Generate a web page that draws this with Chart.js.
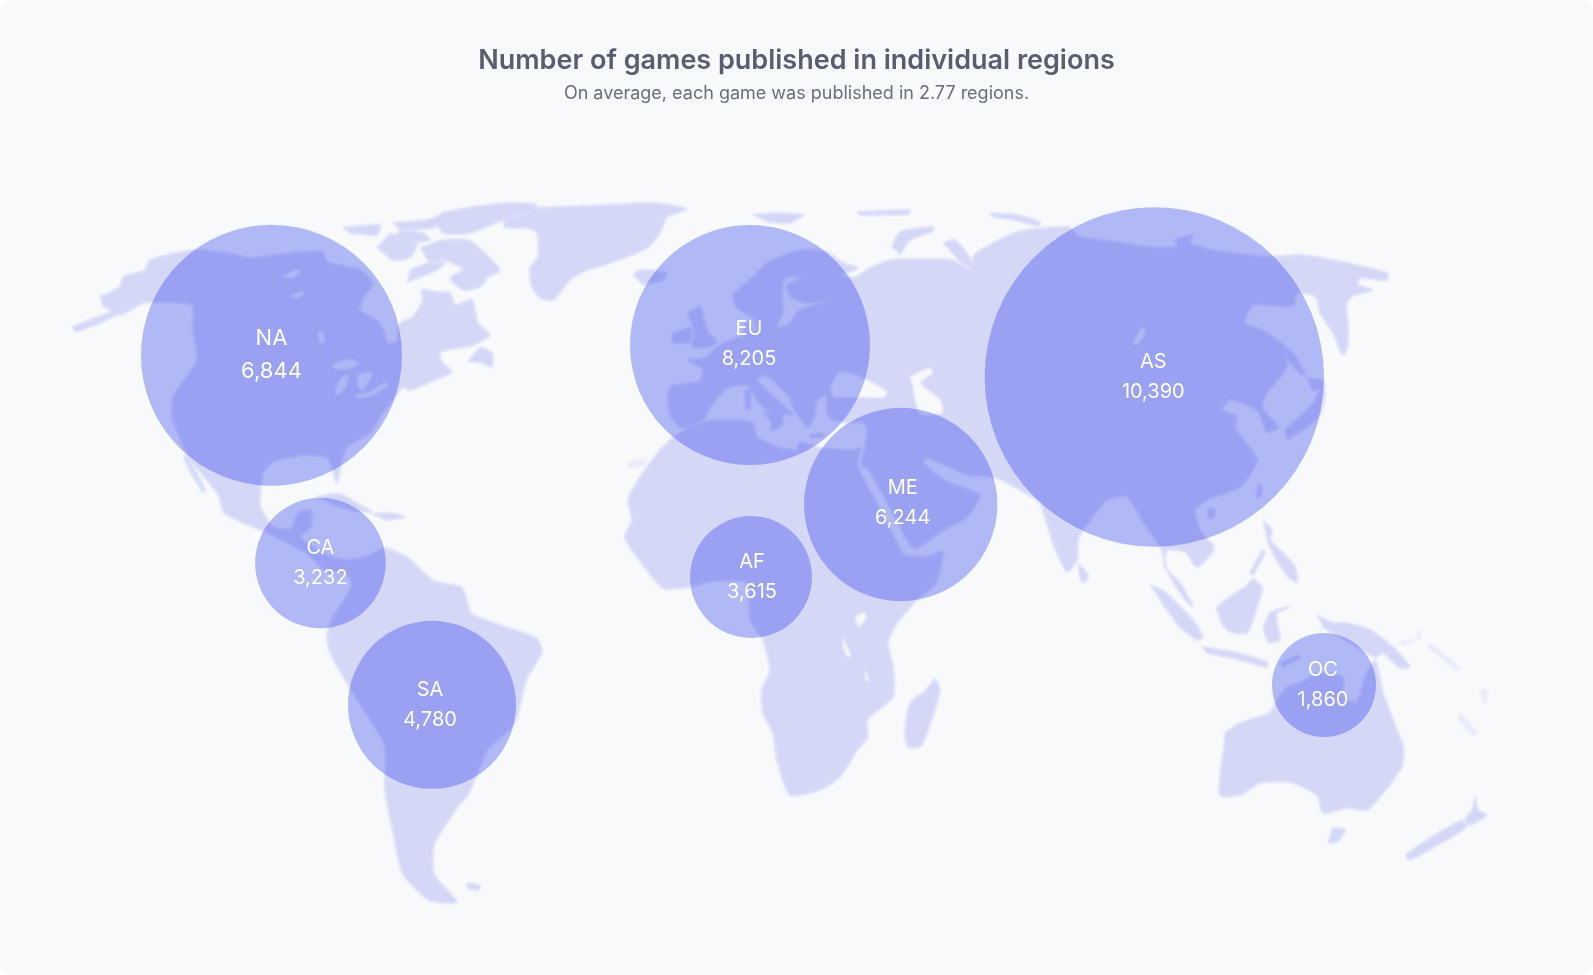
<!DOCTYPE html>
<html>
<head>
<meta charset="utf-8">
<title>Number of games published in individual regions</title>
<script src="https://cdn.jsdelivr.net/npm/chart.js@4"></script>
<style>
  html, body { margin: 0; background: #fff; }
  #mapChart { display: block; background: #f7f9fb; border-radius: 12px; }
</style>
</head>
<body>
<canvas id="mapChart" width="1593" height="975"></canvas>
<script>
// Region values
const regions = ['NA', 'EU', 'AS', 'ME', 'AF', 'CA', 'SA', 'OC'];
const gameCounts = [6844, 8205, 10390, 6244, 3615, 3232, 4780, 1860];
// Where each bubble sits on the map axes, and how big it is
const regionX = [271.5, 750, 1154.3, 900.7, 751, 320.4, 432, 1324];
const regionY = [355.3, 345, 377, 504.5, 577, 563, 704.8, 685];
const regionSize = [130.5, 120, 169.7, 96.7, 61, 65.3, 84, 52];

// Map outlines, traced in map axis units
const northAmerica = [[100,297],[120,287],[123,277],[145,270],[150,260],[193,250],[227,253],[250,258],[293,253],[323,252],[327,262],[360,270],[373,283],[362,300],[360,310],[380,323],[388,343],[397,342],[400,323],[413,317],[423,300],[422,290],[437,292],[450,293],[455,305],[472,300],[478,323],[490,335],[478,343],[470,346],[440,352],[442,362],[452,372],[435,380],[410,390],[403,387],[393,400],[380,417],[370,433],[347,447],[342,460],[337,483],[332,467],[327,457],[303,455],[273,462],[263,473],[260,497],[260,506],[273,527],[291,529],[298,513],[311,510],[311,527],[301,536],[311,546],[332,557],[352,560],[370,555],[385,548],[408,558],[434,581],[462,588],[472,614],[536,638],[542,652],[526,680],[515,723],[487,751],[469,793],[457,808],[434,845],[434,874],[457,902],[429,900],[403,874],[393,831],[385,789],[385,746],[357,699],[332,657],[327,638],[332,619],[352,586],[345,572],[327,572],[306,553],[270,534],[224,513],[219,496],[201,473],[189,458],[173,420],[173,397],[197,360],[193,330],[192,305],[157,302],[143,303],[120,315],[102,305]];
const aleutians = [[72,327],[90,320],[112,312],[118,314],[95,325],[75,332]];
const baja = [[188,457],[205,490],[203,492],[187,465],[184,455]];
const baffin = [[420,248],[443,240],[468,240],[485,253],[500,270],[488,277],[480,287],[463,290],[450,278],[463,270],[457,265],[443,260],[430,262],[423,252]];
const ellesmere = [[442,213],[473,207],[510,203],[537,205],[530,212],[503,220],[470,233],[443,233],[437,220]];
const banks = [[343,228],[380,225],[377,235],[350,233]];
const victoria = [[390,233],[417,243],[410,257],[393,260],[377,247]];
const devon = [[393,223],[427,220],[450,213],[460,218],[432,228],[400,230]];
const somerset = [[400,230],[423,233],[430,240],[415,242],[395,236]];
const southampton = [[407,282],[437,270],[445,262],[425,264],[410,270]];
const newfoundland = [[468,362],[480,348],[492,353],[492,367],[482,363]];
const greenland = [[530,208],[560,207],[607,205],[653,203],[687,209],[667,217],[660,233],[647,248],[613,262],[587,270],[570,280],[553,300],[540,298],[532,287],[530,268],[538,257],[537,233],[527,228],[505,227],[505,220],[530,213]];
const iceland = [[633,275],[640,270],[667,273],[663,280],[643,285]];
const cuba = [[316,497],[340,494],[360,505],[372,512],[350,510],[330,503]];
const hispaniola = [[372,514],[390,513],[405,517],[385,520]];
const falklands = [[467,883],[480,886],[478,890],[467,888]];
const africa = [[673,437],[660,450],[640,477],[628,500],[632,520],[625,538],[643,565],[663,588],[690,587],[713,581],[747,583],[750,620],[763,640],[770,670],[762,690],[763,713],[773,733],[777,760],[790,795],[820,790],[840,777],[857,750],[868,737],[867,720],[893,697],[893,667],[888,643],[897,623],[920,597],[935,585],[943,552],[925,557],[905,555],[898,545],[878,505],[858,467],[860,448],[853,450],[820,448],[800,442],[797,450],[777,447],[757,437],[753,423],[713,420],[687,428]];
const madagascar = [[935,678],[940,690],[922,745],[908,747],[905,733],[910,703],[923,693]];
const eurasia = [[680,428],[670,415],[668,392],[672,386],[700,381],[703,370],[688,360],[705,358],[717,347],[735,338],[743,336],[746,322],[752,322],[752,331],[767,329],[787,325],[800,310],[830,300],[805,303],[790,296],[787,285],[802,277],[785,278],[782,295],[783,312],[775,328],[765,331],[757,330],[753,318],[737,308],[733,295],[753,277],[767,263],[800,250],[827,252],[843,263],[858,268],[840,276],[856,277],[870,268],[891,260],[952,260],[972,270],[974,255],[1017,232],[1068,227],[1080,237],[1117,242],[1147,247],[1177,247],[1175,240],[1193,235],[1190,243],[1213,250],[1267,257],[1300,255],[1333,260],[1387,273],[1387,280],[1360,278],[1358,285],[1372,290],[1352,296],[1346,305],[1348,325],[1348,345],[1343,355],[1333,333],[1320,313],[1316,297],[1297,293],[1293,306],[1253,305],[1245,323],[1262,330],[1283,345],[1287,367],[1267,393],[1262,407],[1278,427],[1267,432],[1257,410],[1230,400],[1222,410],[1237,417],[1235,428],[1257,460],[1240,487],[1207,500],[1195,510],[1200,530],[1213,545],[1213,552],[1197,567],[1185,552],[1167,550],[1165,567],[1180,583],[1193,607],[1183,597],[1167,570],[1162,550],[1145,525],[1127,497],[1107,500],[1083,530],[1078,540],[1077,560],[1067,572],[1053,543],[1043,510],[1038,501],[1002,480],[992,477],[967,475],[952,468],[926,458],[924,463],[947,482],[962,487],[980,496],[967,517],[947,528],[914,548],[893,513],[869,470],[861,465],[865,448],[867,427],[860,422],[850,423],[833,420],[827,413],[826,395],[816,402],[815,415],[808,427],[800,418],[792,405],[790,397],[765,375],[757,380],[780,402],[793,415],[783,415],[782,425],[772,430],[770,415],[757,400],[747,385],[727,388],[712,405],[703,420],[688,428]];
const britain = [[687,313],[700,307],[707,330],[717,343],[707,347],[692,347],[695,333]];
const ireland = [[672,333],[692,328],[690,342],[672,343]];
const sardinia = [[745,390],[750,390],[750,408],[745,408]];
const sicily = [[763,413],[777,417],[770,420]];
const crete = [[810,435],[823,433],[823,436],[810,438]];
const svalbard = [[753,215],[777,213],[803,215],[790,223],[767,222]];
const franzJosef = [[857,212],[910,210],[908,214],[860,215]];
const severnaya = [[990,213],[1017,215],[1040,222],[1038,226],[1015,220],[993,217]];
const novayaZemlya = [[892,247],[900,232],[933,227],[933,231],[910,240],[900,255]];
const yamal = [[943,243],[955,240],[970,258],[975,270],[960,262]];
const honshu = [[1287,440],[1310,425],[1320,415],[1325,395],[1322,385],[1315,400],[1305,412],[1285,430]];
const hokkaido = [[1307,378],[1322,380],[1325,387],[1312,390]];
const sakhalin = [[1282,345],[1293,353],[1305,373],[1302,375],[1287,360]];
const taiwan = [[1258,483],[1262,487],[1260,497],[1256,497]];
const hainan = [[1208,508],[1215,510],[1213,518],[1208,518]];
const sriLanka = [[1078,563],[1088,575],[1085,582],[1080,580]];
const sumatra = [[1150,585],[1165,592],[1193,620],[1203,637],[1197,640],[1180,627],[1160,600]];
const java = [[1202,647],[1237,653],[1267,662],[1267,667],[1233,658],[1207,653]];
const borneo = [[1253,578],[1262,588],[1257,607],[1247,633],[1227,630],[1217,608],[1230,597],[1245,587]];
const sulawesi = [[1263,630],[1270,613],[1290,607],[1277,613],[1277,623],[1280,640],[1268,643]];
const luzon = [[1263,520],[1272,530],[1270,540],[1283,553],[1295,567],[1297,582],[1288,577],[1277,560],[1268,543]];
const palawan = [[1250,573],[1263,550],[1265,552],[1253,575]];
const timor = [[1280,663],[1298,655],[1300,658],[1283,667]];
const newGuinea = [[1317,615],[1333,623],[1347,623],[1370,630],[1393,647],[1410,667],[1400,668],[1383,653],[1375,657],[1340,637],[1323,627]];
const australia = [[1225,733],[1240,723],[1270,713],[1277,700],[1287,687],[1300,683],[1317,673],[1343,677],[1343,697],[1357,702],[1365,677],[1375,660],[1383,693],[1393,720],[1403,747],[1402,767],[1383,793],[1367,810],[1347,808],[1323,813],[1317,795],[1290,782],[1260,783],[1240,795],[1220,795],[1223,753]];
const tasmania = [[1332,828],[1345,830],[1337,842],[1328,843]];
const nzNorth = [[1475,797],[1478,810],[1487,815],[1470,825],[1465,820],[1472,810]];
const nzSouth = [[1468,825],[1460,832],[1410,860],[1406,855],[1440,832],[1462,820]];

// Very faint specks in the reference
const newBritain = [[1403,645],[1420,637],[1420,630],[1415,640],[1400,642]];
const solomons = [[1430,643],[1460,668],[1457,670],[1428,647]];
const caledonia = [[1460,713],[1477,733],[1473,735],[1458,718]];
const vanuatu = [[1480,690],[1487,690],[1485,705]];
const canaries = [[627,463],[645,460],[645,465],[628,467]];

// Water inside the land
const blackSea = [[830,387],[840,372],[860,377],[887,392],[883,397],[863,397],[833,397]];
const caspian = [[910,377],[930,368],[932,373],[920,383],[940,400],[942,413],[920,413],[913,387]];
const baikal = [[1133,343],[1143,327],[1145,333],[1137,345]];
const superior = [[332,365],[350,360],[358,363],[350,368],[335,369]];
const michigan = [[335,393],[340,380],[348,375],[345,388],[338,395]];
const huron = [[358,375],[372,373],[368,382],[362,390],[358,387]];
const erieOntario = [[355,395],[370,392],[385,383],[388,385],[372,395],[358,398]];
const greatBear = [[283,277],[295,270],[300,272],[292,278]];
const greatSlave = [[290,297],[300,292],[304,293],[297,298]];
const winnipeg = [[318,333],[322,332],[324,342],[320,342]];
const lakeVictoria = [[855,617],[865,613],[865,620],[858,627]];
const tanganyika = [[843,638],[850,655],[848,657],[843,647]];
const malawi = [[865,670],[868,680],[866,682]];

const landShapes = [northAmerica, aleutians, baja, baffin, ellesmere, banks, victoria, devon, somerset, southampton, newfoundland, greenland, iceland, cuba, hispaniola, falklands, africa, madagascar, eurasia, britain, ireland, sardinia, sicily, crete, svalbard, franzJosef, severnaya, novayaZemlya, yamal, honshu, hokkaido, sakhalin, taiwan, hainan, sriLanka, sumatra, java, borneo, sulawesi, luzon, palawan, timor, newGuinea, australia, tasmania, nzNorth, nzSouth];
const faintShapes = [newBritain, solomons, caledonia, vanuatu, canaries];
const waterShapes = [blackSea, caspian, baikal, superior, michigan, huron, erieOntario, greatBear, greatSlave, winnipeg, lakeVictoria, tanganyika, malawi];

const BG = '#f7f9fb';
const LAND = '#d5d7f7';
const FAINT = '#e8eaf9';
const BUBBLE = 'rgba(37, 54, 233, 0.333)';

// One filled scatter outline per shape, so the map goes through the same scales as the bubbles
const shapeDataset = (shape, color, order) => ({
  type: 'scatter',
  data: shape.map(p => ({ x: p[0], y: p[1] })),
  showLine: true,
  tension: 0.2,
  fill: 'shape',
  backgroundColor: color,
  borderColor: color,
  borderWidth: 1,
  pointRadius: 0,
  order: order
});

// The reference map is a soft image, bubbles are sharp. Dataset 0 (bubbles) draws last.
const softMap = {
  id: 'softMap',
  beforeDatasetsDraw(chart) {
    chart.ctx.filter = 'blur(0.9px)';
  },
  beforeDatasetDraw(chart, args) {
    if (args.index === 0) chart.ctx.filter = 'none';
  }
};

// Labels are not quite centred on their bubbles
const labelShiftX = [0, -1, -1, 2, 1, 0, -2, -1];
const labelShiftY = [0, -1, 0, -2, 0, 0, 0, 0];

// Writes the region code and the count on each bubble
const bubbleLabels = {
  id: 'bubbleLabels',
  afterDatasetsDraw(chart) {
    const ctx = chart.ctx;
    const points = chart.getDatasetMeta(0).data;
    ctx.save();
    ctx.fillStyle = '#ffffff';
    ctx.textAlign = 'center';
    ctx.textBaseline = 'middle';
    points.forEach((point, i) => {
      // NA is set a bit bigger in the reference
      const big = regions[i] === 'NA';
      const gap = big ? 16.5 : 15;
      const x = point.x + labelShiftX[i];
      const y = point.y + labelShiftY[i];
      ctx.font = (big ? 22 : 20) + 'px Inter';
      ctx.fillText(regions[i], x, y - gap);
      ctx.fillText(gameCounts[i].toLocaleString('en-US'), x, y + gap);
    });
    ctx.restore();
  }
};

new Chart(document.getElementById('mapChart'), {
  type: 'bubble',
  data: {
    datasets: [
      {
        label: 'Games published',
        data: regions.map((r, i) => ({ x: regionX[i], y: regionY[i], r: regionSize[i] })),
        backgroundColor: BUBBLE,
        borderWidth: 0,
        order: 0
      },
      ...waterShapes.map(s => shapeDataset(s, BG, 1)),
      ...landShapes.map(s => shapeDataset(s, LAND, 2)),
      ...faintShapes.map(s => shapeDataset(s, FAINT, 2))
    ]
  },
  options: {
    responsive: false,
    animation: false,
    clip: false,
    layout: { padding: 0, autoPadding: false },
    scales: {
      x: { type: 'linear', display: false, min: 0, max: 1593 },
      y: { type: 'linear', display: false, min: 130, max: 975, reverse: true }
    },
    plugins: {
      legend: { display: false },
      tooltip: { enabled: false },
      title: {
        display: true,
        text: 'Number of games published in individual regions',
        color: '#5a5d6f',
        font: { family: 'Inter', size: 27, weight: '600', lineHeight: 1.2 },
        padding: { top: 45, bottom: 5.5 }
      },
      subtitle: {
        display: true,
        text: 'On average, each game was published in 2.77 regions.',
        color: '#6b6e7d',
        font: { family: 'Inter', size: 18, weight: '400', lineHeight: 1.2 },
        padding: { top: 0, bottom: 25.5 }
      }
    }
  },
  plugins: [softMap, bubbleLabels]
});
</script>
</body>
</html>
